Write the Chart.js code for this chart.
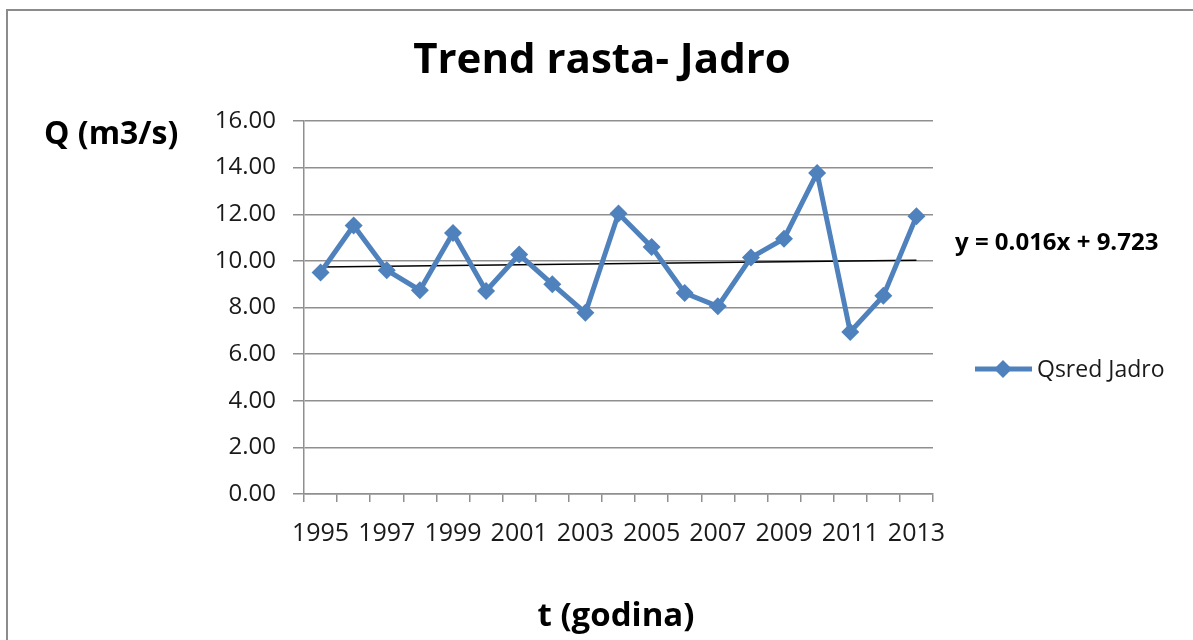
<!DOCTYPE html>
<html>
<head>
<meta charset="utf-8">
<script src="https://cdn.jsdelivr.net/npm/chart.js@4"></script>
<style>
  html, body { margin: 0; padding: 0; background: #fff; }
  #wrap { width: 1193px; height: 640px; position: relative; }
</style>
</head>
<body>
<div id="wrap"><canvas id="trendChart"></canvas></div>
<script>
const years = ['1995', '1996', '1997', '1998', '1999', '2000', '2001', '2002', '2003', '2004',
  '2005', '2006', '2007', '2008', '2009', '2010', '2011', '2012', '2013'];
const qsred = [9.50, 11.52, 9.60, 8.74, 11.20, 8.71, 10.27, 9.00, 7.77, 12.03,
  10.60, 8.62, 8.05, 10.14, 10.95, 13.77, 6.95, 8.50, 11.91];
// linear trend, read at its two ends
const trendYears = ['1995', '2013'];
const trendValues = [9.74, 10.03];
const yTicks = [0, 2, 4, 6, 8, 10, 12, 14, 16];

const seriesName = 'Qsred Jadro';
const chartTitle = 'Trend rasta- Jadro';
const yTitle = 'Q (m3/s)';
const xTitle = 't (godina)';
const equation = 'y = 0.016x + 9.723';

const blue = '#4f81bd';
const gridGray = '#8f8f8f';

Chart.defaults.font.family = "'Open Sans', sans-serif";

const excelLabels = {
  id: 'excelLabels',
  beforeDraw(chart) {
    const ctx = chart.ctx;
    ctx.save();
    ctx.fillStyle = '#fff';
    ctx.fillRect(0, 0, chart.width, chart.height);
    // outer frame
    ctx.strokeStyle = '#8c8c8c';
    ctx.lineWidth = 2;
    ctx.beginPath();
    ctx.moveTo(7, 700);
    ctx.lineTo(7, 10);
    ctx.lineTo(1300, 10);
    ctx.stroke();
    ctx.restore();
  },
  afterDraw(chart) {
    const ctx = chart.ctx;
    ctx.save();
    ctx.fillStyle = '#000';
    ctx.textBaseline = 'alphabetic';

    ctx.font = "bold 42px 'Open Sans'";
    ctx.textAlign = 'center';
    ctx.fillText(chartTitle, 602, 73);

    ctx.font = "bold 32px 'Open Sans'";
    ctx.textAlign = 'left';
    ctx.fillText(yTitle, 44, 144);

    ctx.font = "bold 33px 'Open Sans'";
    ctx.textAlign = 'center';
    ctx.fillText(xTitle, 616, 626);

    ctx.font = "bold 24px 'Open Sans'";
    ctx.textAlign = 'left';
    ctx.fillText(equation, 955, 250);

    // legend
    ctx.strokeStyle = blue;
    ctx.lineWidth = 5;
    ctx.beginPath();
    ctx.moveTo(975, 369);
    ctx.lineTo(1032, 369);
    ctx.stroke();
    ctx.fillStyle = blue;
    ctx.beginPath();
    ctx.moveTo(1003, 360);
    ctx.lineTo(1012, 369);
    ctx.lineTo(1003, 378);
    ctx.lineTo(994, 369);
    ctx.closePath();
    ctx.fill();
    ctx.fillStyle = '#1a1a1a';
    ctx.font = "23px 'Open Sans'";
    ctx.fillText(seriesName, 1037, 377);
    ctx.restore();
  }
};

const ctx = document.getElementById('trendChart').getContext('2d');
new Chart(ctx, {
  type: 'line',
  data: {
    labels: years,
    datasets: [
      {
        label: 'Trend',
        data: trendYears.map((y, i) => ({ x: y, y: trendValues[i] })),
        borderColor: '#000',
        borderWidth: 1.5,
        pointRadius: 0,
        order: 2
      },
      {
        label: seriesName,
        data: qsred,
        borderColor: blue,
        backgroundColor: blue,
        borderWidth: 5,
        pointStyle: 'rectRot',
        pointRadius: 9,
        pointBorderWidth: 0,
        tension: 0,
        order: 1
      }
    ]
  },
  options: {
    responsive: true,
    maintainAspectRatio: false,
    animation: false,
    layout: {
      padding: { left: 200, right: 260, top: 121, bottom: 0 }
    },
    scales: {
      x: {
        offset: true,
        afterFit: (scale) => { scale.height = 146; },
        grid: {
          offset: true,
          drawOnChartArea: false,
          tickLength: 8,
          color: gridGray,
          lineWidth: 1.5
        },
        border: { color: gridGray, width: 1.5 },
        ticks: {
          autoSkip: false,
          maxRotation: 0,
          padding: 17,
          color: '#1a1a1a',
          font: { size: 25 },
          callback: function (value, index) {
            return index % 2 === 0 ? years[index] : '';
          }
        }
      },
      y: {
        min: yTicks[0],
        max: yTicks[yTicks.length - 1],
        afterFit: (scale) => { scale.width = 104; },
        afterBuildTicks: (scale) => { scale.ticks = yTicks.map((v) => ({ value: v })); },
        grid: {
          tickLength: 11,
          color: gridGray,
          lineWidth: 1.5
        },
        border: { color: gridGray, width: 1.5 },
        ticks: {
          padding: 17,
          color: '#1a1a1a',
          font: { size: 24 },
          callback: (value) => value.toFixed(2)
        }
      }
    },
    plugins: {
      legend: { display: false },
      title: { display: false },
      tooltip: { enabled: false }
    }
  },
  plugins: [excelLabels]
});
</script>
</body>
</html>
